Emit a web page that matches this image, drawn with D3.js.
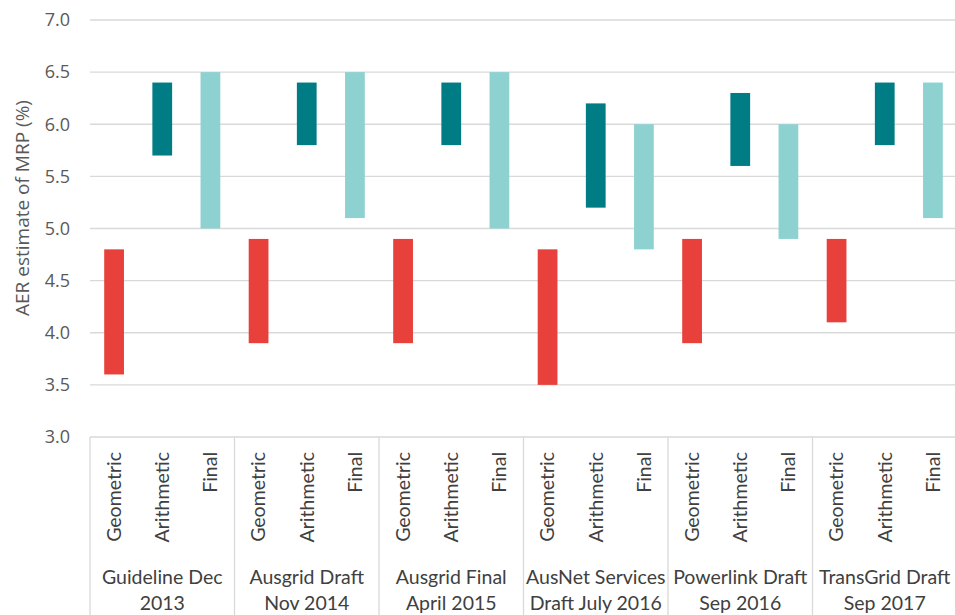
<!DOCTYPE html>
<html lang="en">
<head>
<meta charset="UTF-8">
<title>AER estimate of MRP</title>
<script src="https://d3js.org/d3.v7.min.js"></script>
<style>
 body { margin: 0; background: #fff; }
 svg { display: block; }
 .grid line { stroke: #d9d9d9; stroke-width: 1.3px; }
 .tick-label { font-family: "Open Sans", sans-serif; font-size: 18px; fill: #595959; }
 .cat-label, .group-label { font-family: Lato, sans-serif; font-size: 19.5px; fill: #404040; }
 .axis-title { font-family: "Open Sans", sans-serif; font-size: 19px; fill: #595959; }
 .sep { stroke: #d9d9d9; stroke-width: 1.3px; }
</style>
</head>
<body>
<div id="chart"></div>
<script>
// groups and series
const groups = [
  ["Guideline Dec", "2013"],
  ["Ausgrid Draft", "Nov 2014"],
  ["Ausgrid Final", "April 2015"],
  ["AusNet Services", "Draft July 2016"],
  ["Powerlink Draft", "Sep 2016"],
  ["TransGrid Draft", "Sep 2017"]
];
const series = ["Geometric", "Arithmetic", "Final"];
const colors = ["#e8403a", "#007c85", "#8dd1d1"];

// [low, high] per group
const geometric  = [[3.6, 4.8], [3.9, 4.9], [3.9, 4.9], [3.5, 4.8], [3.9, 4.9], [4.1, 4.9]];
const arithmetic = [[5.7, 6.4], [5.8, 6.4], [5.8, 6.4], [5.2, 6.2], [5.6, 6.3], [5.8, 6.4]];
const final      = [[5.0, 6.5], [5.1, 6.5], [5.0, 6.5], [4.8, 6.0], [4.9, 6.0], [5.1, 6.4]];
const yTicks = [3.0, 3.5, 4.0, 4.5, 5.0, 5.5, 6.0, 6.5, 7.0];

const width = 955, height = 615;
const plotLeft = 90, plotRight = 957, plotTop = 20, plotBottom = 437;

const svg = d3.select('#chart').append('svg')
  .attr('width', width)
  .attr('height', height);

const y = d3.scaleLinear().domain([3, 7]).range([plotBottom, plotTop]);
const x0 = d3.scaleBand().domain(d3.range(groups.length)).range([plotLeft, plotRight]);
const x1 = d3.scaleBand().domain(series).range([0, x0.bandwidth()]).paddingInner(0.59).paddingOuter(0.295);
const cat = d3.scaleBand().domain(series).range([0, x0.bandwidth()]);

// gridlines
svg.append('g').attr('class', 'grid')
  .selectAll('line')
  .data(yTicks)
  .enter().append('line')
  .attr('x1', plotLeft).attr('x2', plotRight)
  .attr('y1', d => y(d)).attr('y2', d => y(d));

svg.selectAll('.tick-label')
  .data(yTicks)
  .enter().append('text')
  .attr('class', 'tick-label')
  .attr('x', 70)
  .attr('y', d => y(d))
  .attr('dy', '0.35em')
  .attr('text-anchor', 'end')
  .text(d => d.toFixed(1));

svg.append('text')
  .attr('class', 'axis-title')
  .attr('transform', 'translate(29,208) rotate(-90)')
  .attr('text-anchor', 'middle')
  .text('AER estimate of MRP (%)');

// bars
const allSeries = [geometric, arithmetic, final];
const bars = [];
allSeries.forEach((s, si) => s.forEach((v, gi) => bars.push({ g: gi, s: series[si], c: colors[si], lo: v[0], hi: v[1] })));

svg.append('g')
  .selectAll('rect')
  .data(bars)
  .enter().append('rect')
  .attr('x', d => x0(d.g) + x1(d.s))
  .attr('width', x1.bandwidth())
  .attr('y', d => y(d.hi))
  .attr('height', d => y(d.lo) - y(d.hi))
  .attr('fill', d => d.c);

// category axis
const sepX = d3.range(groups.length + 1).map(i => plotLeft + i * x0.bandwidth());
svg.selectAll('.sep')
  .data(sepX)
  .enter().append('line')
  .attr('class', 'sep')
  .attr('x1', d => d).attr('x2', d => d)
  .attr('y1', plotBottom).attr('y2', height);

const grp = svg.selectAll('.grp')
  .data(groups)
  .enter().append('g')
  .attr('transform', (d, i) => `translate(${x0(i)},0)`);

grp.selectAll('.cat-label')
  .data(series)
  .enter().append('text')
  .attr('class', 'cat-label')
  .attr('transform', d => `translate(${cat(d) + cat.bandwidth() / 2},452) rotate(-90)`)
  .attr('dy', '0.35em')
  .attr('text-anchor', 'end')
  .text(d => d);

grp.append('text')
  .attr('class', 'group-label')
  .attr('x', x0.bandwidth() / 2)
  .attr('y', 584)
  .attr('text-anchor', 'middle')
  .text(d => d[0]);

grp.append('text')
  .attr('class', 'group-label')
  .attr('x', x0.bandwidth() / 2)
  .attr('y', 610)
  .attr('text-anchor', 'middle')
  .text(d => d[1]);
</script>
</body>
</html>
